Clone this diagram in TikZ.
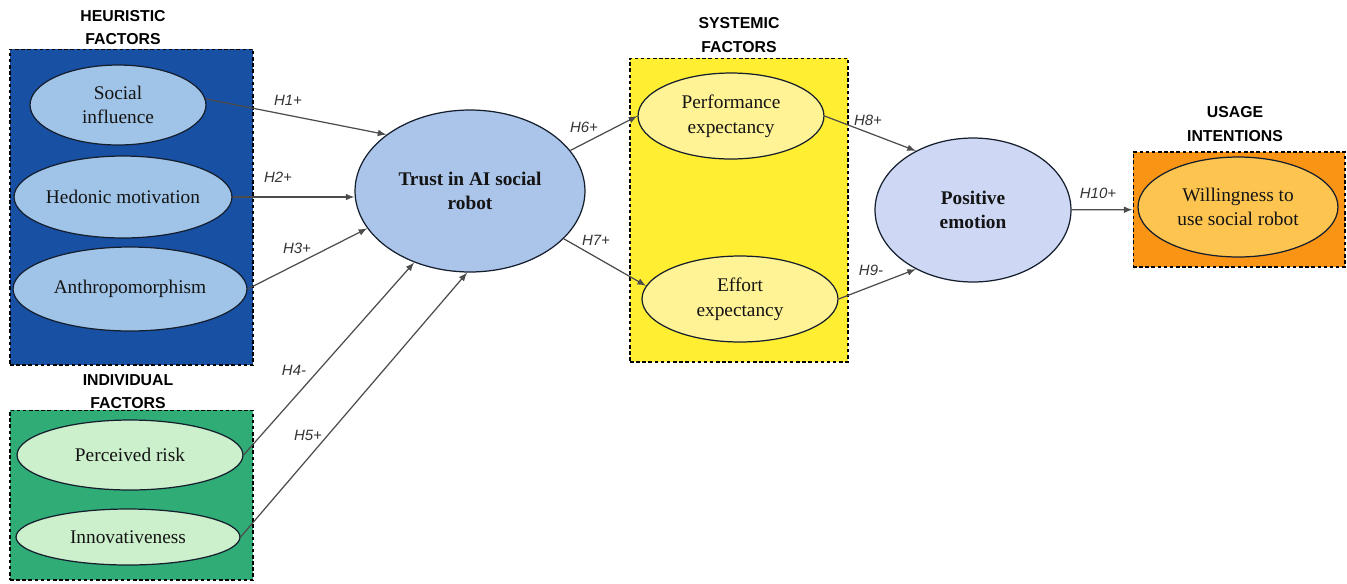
\documentclass[tikz,border=0pt]{standalone}
\usepackage{fontspec}
\setmainfont{Liberation Serif}
\setsansfont{Liberation Sans}
\usepackage{tikz}
\usetikzlibrary{shapes.geometric}
\usetikzlibrary{arrows}
\usetikzlibrary{positioning}
\definecolor{heurblue}{RGB}{24,80,164}
\definecolor{heurfill}{RGB}{160,196,232}
\definecolor{indgreen}{RGB}{48,172,118}
\definecolor{indfill}{RGB}{204,240,204}
\definecolor{trustfill}{RGB}{170,196,234}
\definecolor{sysyellow}{RGB}{255,238,50}
\definecolor{sysfill}{RGB}{255,243,150}
\definecolor{emofill}{RGB}{206,216,245}
\definecolor{useorange}{RGB}{250,148,20}
\definecolor{usefill}{RGB}{254,196,80}
\definecolor{ellline}{RGB}{20,30,45}
\tikzset{
	factor/.style={ellipse, draw=ellline, line width=0.7pt, inner sep=0pt, align=center,
		text=black!92, font=\fontsize{11}{14}\selectfont},
	core/.style={factor, font=\bfseries\fontsize{11}{14}\selectfont},
	groupbox/.style={draw=black, dash pattern=on 2pt off 1.5pt, line width=0.6pt, inner sep=0pt},
	grouplabel/.style={align=center, font=\sffamily\bfseries\fontsize{9}{13.5}\selectfont},
	hypo/.style={-latex, draw=black!70, line width=0.7pt},
	hlabel/.style={font=\sffamily\itshape\fontsize{8.5}{10}\selectfont, text=black!80},
}

\begin{document}
\begin{tikzpicture}[x=0.02cm,y=-0.02cm]
	\useasboundingbox (0,0) rectangle (1347,583);
	% group boxes
	\node[groupbox, fill=heurblue, minimum width=4.86cm, minimum height=6.32cm] (heurbox) at (131.5,207) {};
	\node[groupbox, fill=indgreen, minimum width=4.86cm, minimum height=3.4cm] (indbox) at (131.5,495) {};
	\node[groupbox, fill=sysyellow, minimum width=4.36cm, minimum height=6.08cm] (sysbox) at (739,210) {};
	\node[groupbox, fill=useorange, minimum width=4.24cm, minimum height=2.3cm] (usebox) at (1239,209.5) {};
	\node[grouplabel] (heurlab) at (123,27.5) {HEURISTIC\\FACTORS};
	\node[grouplabel] (indlab) at (128,391.5) {INDIVIDUAL\\FACTORS};
	\node[grouplabel] (syslab) at (739,35) {SYSTEMIC\\FACTORS};
	\node[grouplabel] (uselab) at (1235,124) {USAGE\\INTENTIONS};
	% constructs
	\node[factor, fill=heurfill, minimum width=3.52cm, minimum height=1.6cm] (social) at (118,105) {Social\\influence};
	\node[factor, fill=heurfill, minimum width=4.36cm, minimum height=1.64cm] (hedonic) at (123,197) {Hedonic motivation};
	\node[factor, fill=heurfill, minimum width=4.68cm, minimum height=1.68cm] (anthro) at (130,289) {Anthropomorphism};
	\node[factor, fill=indfill, minimum width=4.52cm, minimum height=1.4cm] (risk) at (130,455) {Perceived risk};
	\node[factor, fill=indfill, minimum width=4.48cm, minimum height=1.12cm] (innov) at (128,537) {Innovativeness};
	\node[core, fill=trustfill, minimum width=4.6cm, minimum height=3.24cm] (trust) at (470,191) {Trust in AI social\\robot};
	\node[factor, fill=sysfill, minimum width=3.72cm, minimum height=1.72cm] (perf) at (731,116) {Performance\\expectancy};
	\node[factor, fill=sysfill, minimum width=3.92cm, minimum height=1.72cm] (effort) at (740,299) {Effort\\expectancy};
	\node[core, fill=emofill, minimum width=3.92cm, minimum height=2.88cm] (emotion) at (973,210) {Positive\\emotion};
	\node[factor, fill=usefill, minimum width=4cm, minimum height=2cm] (willing) at (1238,207) {Willingness to\\use social robot};
	% hypotheses
	\draw[hypo] (social.4) -- (trust.146);
	\draw[hypo] (hedonic.east) -- (trust.west |- hedonic.east);
	\draw[hypo] (anthro.east) -- (trust.200);
	\draw[hypo] (risk.east) -- (trust.232);
	\draw[hypo] (innov.east) -- (trust.268);
	\draw[hypo] (trust.22) -- (perf.west);
	\draw[hypo] (trust.333) -- (effort.172);
	\draw[hypo] (perf.east) -- (emotion.134);
	\draw[hypo] (effort.east) -- (emotion.226);
	\draw[hypo] (emotion) -- (usebox);
	\node[hlabel] (h1) at (288,100) {H1+};
	\node[hlabel] (h2) at (278,177) {H2+};
	\node[hlabel] (h3) at (297,248) {H3+};
	\node[hlabel] (h4) at (294,370) {H4-};
	\node[hlabel] (h5) at (308,435) {H5+};
	\node[hlabel] (h6) at (584,127) {H6+};
	\node[hlabel] (h7) at (596,240) {H7+};
	\node[hlabel] (h8) at (868,120) {H8+};
	\node[hlabel] (h9) at (871,270) {H9-};
	\node[hlabel] (h10) at (1098,193) {H10+};
\end{tikzpicture}
\end{document}
